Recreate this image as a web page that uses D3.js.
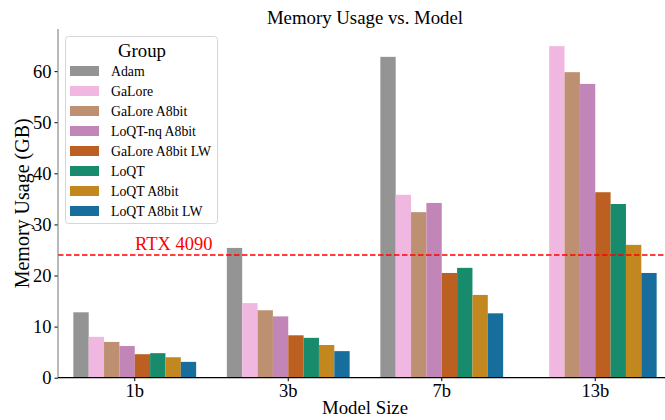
<!DOCTYPE html>
<html>
<head>
<meta charset="utf-8">
<script src="https://cdn.jsdelivr.net/npm/d3@7"></script>
<style>
  body { margin: 0; background: #fff; }
  svg text { font-family: "Liberation Serif", "Times New Roman", Times, serif !important; }
</style>
</head>
<body>
<svg id="chart" width="665" height="420"></svg>
<script>
const categories = ["1b", "3b", "7b", "13b"];
const groups = ["Adam", "GaLore", "GaLore A8bit", "LoQT-nq A8bit", "GaLore A8bit LW", "LoQT", "LoQT A8bit", "LoQT A8bit LW"];
const colors = ["#949494", "#f0b8e0", "#bc9070", "#c285b7", "#bb6020", "#178b6b", "#c2871f", "#176d9c"];
const values = {
  "Adam":            [12.8, 25.4, 62.8, null],
  "GaLore":          [8.0, 14.6, 35.8, 64.9],
  "GaLore A8bit":    [7.0, 13.2, 32.4, 59.8],
  "LoQT-nq A8bit":   [6.2, 12.0, 34.2, 57.5],
  "GaLore A8bit LW": [4.6, 8.3, 20.5, 36.3],
  "LoQT":            [4.8, 7.8, 21.5, 34.0],
  "LoQT A8bit":      [4.0, 6.4, 16.2, 26.0],
  "LoQT A8bit LW":   [3.1, 5.2, 12.6, 20.5]
};
const yTicks = [0, 10, 20, 30, 40, 50, 60];
const refLine = 24;
const refLabel = "RTX 4090";

const svg = d3.select("#chart");
const mLeft = 58, mRight = 672, mTop = 29, mBottom = 377.7;

const x = d3.scaleBand().domain(categories).range([mLeft, mRight]).paddingInner(0).paddingOuter(0);
const xs = d3.scaleBand().domain(groups).range([0, x.bandwidth() * 0.8]);
const y = d3.scaleLinear().domain([0, 65 * 1.05]).range([mBottom, mTop]);

groups.forEach((g, gi) => {
  svg.append("g").selectAll("rect")
    .data(categories.map((c, i) => ({c, v: values[g][i]})).filter(d => d.v != null))
    .join("rect")
    .attr("x", d => x(d.c) + x.bandwidth() * 0.1 + xs(g))
    .attr("width", xs.bandwidth())
    .attr("y", d => y(d.v))
    .attr("height", d => y(0) - y(d.v))
    .attr("fill", colors[gi]);
});

svg.append("line")
  .attr("x1", mLeft).attr("x2", mRight)
  .attr("y1", y(refLine)).attr("y2", y(refLine))
  .attr("stroke", "#ff0000").attr("stroke-width", 1.5)
  .attr("stroke-dasharray", "5.5,2.5");
svg.append("text")
  .attr("x", 135).attr("y", y(refLine) - 5)
  .attr("fill", "#ff0000").attr("font-size", 18.5)
  .text(refLabel);

const yAxis = d3.axisLeft(y).tickValues(yTicks).tickSize(3.5).tickPadding(3);
const gy = svg.append("g").attr("transform", `translate(${mLeft},0)`).call(yAxis);
gy.select(".domain").remove();
gy.selectAll("text").attr("font-size", 18.5).attr("fill", "#000");
gy.selectAll("line").attr("stroke", "#000");
svg.append("line").attr("x1", mLeft).attr("x2", mLeft).attr("y1", mTop).attr("y2", mBottom)
  .attr("stroke", "#8a8a8a").attr("stroke-width", 1.2);

const xAxis = d3.axisBottom(x).tickSize(3.5).tickPadding(3);
const gx = svg.append("g").attr("transform", `translate(0,${mBottom})`).call(xAxis);
gx.select(".domain").remove();
gx.selectAll("text").attr("font-size", 18.5).attr("fill", "#000");
gx.selectAll("line").attr("stroke", "#000");
svg.append("line").attr("x1", mLeft).attr("x2", mRight).attr("y1", mBottom).attr("y2", mBottom)
  .attr("stroke", "#000").attr("stroke-width", 1.2);

const cx = (mLeft + mRight) / 2;
svg.append("text").attr("x", cx).attr("y", 24).attr("text-anchor", "middle")
  .attr("font-size", 18.8).text("Memory Usage vs. Model");
svg.append("text").attr("x", cx).attr("y", 414).attr("text-anchor", "middle")
  .attr("font-size", 18.8).text("Model Size");
svg.append("text").attr("transform", `translate(28.5,${(mTop + mBottom) / 2}) rotate(-90)`)
  .attr("text-anchor", "middle").attr("font-size", 20).text("Memory Usage (GB)");

const lg = svg.append("g");
lg.append("rect").attr("x", 65.5).attr("y", 36.5).attr("width", 152).attr("height", 187)
  .attr("rx", 3).attr("fill", "#fff").attr("fill-opacity", 0.8)
  .attr("stroke", "#d6d6d6").attr("stroke-width", 1);
lg.append("text").attr("x", 142).attr("y", 57).attr("text-anchor", "middle")
  .attr("font-size", 18.8).text("Group");
groups.forEach((g, i) => {
  const cy = 71 + i * 20;
  lg.append("rect").attr("x", 70).attr("y", cy - 5).attr("width", 29).attr("height", 10).attr("fill", colors[i]);
  lg.append("text").attr("x", 111).attr("y", cy + 5).attr("font-size", 13.8).text(g);
});
</script>
</body>
</html>
